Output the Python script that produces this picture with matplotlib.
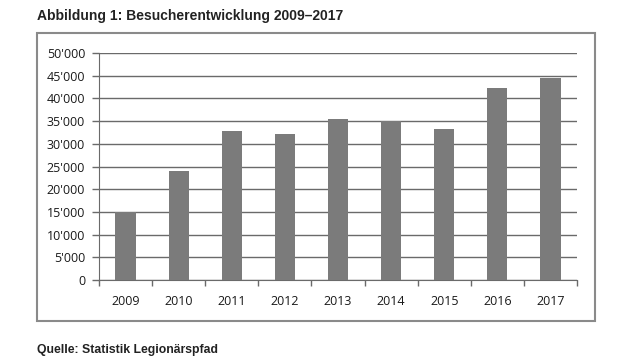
import matplotlib
matplotlib.use("Agg")
import matplotlib.pyplot as plt
from matplotlib.patches import Rectangle
from matplotlib.ticker import FuncFormatter, FixedLocator
import numpy as np

years = ["2009", "2010", "2011", "2012", "2013", "2014", "2015", "2016", "2017"]
visitors = [15000, 23900, 32900, 32200, 35400, 35000, 33200, 42300, 44400]
yticks = list(range(0, 50001, 5000))

fig = plt.figure(figsize=(6.4, 3.6), dpi=100)
fig.patch.set_facecolor("white")

# outer frame
fig.patches.append(Rectangle((37/640, 1-321/360), (595-37)/640, (321-33)/360,
                             transform=fig.transFigure, fill=False,
                             edgecolor="#8a8a8a", linewidth=1.5))

ax = fig.add_axes([99/640, 1-280/360, (577-99)/640, (280-53)/360])
x = np.arange(len(years))
ax.bar(x, visitors, width=0.38, color="#7b7b7b", zorder=3)

ax.set_ylim(0, 50000)
ax.set_xlim(-0.5, len(years)-0.5)
ax.set_yticks(yticks)
ax.yaxis.set_major_formatter(FuncFormatter(lambda v, p: "0" if v == 0 else f"{int(v):,}".replace(",", "'")))
ax.yaxis.grid(True, color="#6a6a6a", linewidth=1.0, zorder=0)
ax.set_axisbelow(True)

ax.set_xticks(x)
ax.set_xticklabels(years)
ax.xaxis.set_minor_locator(FixedLocator(np.arange(-0.5, len(years), 1.0)))
ax.tick_params(axis="x", which="major", length=0, pad=11, labelsize=9, labelcolor="#1a1a1a")
ax.tick_params(axis="x", which="minor", length=4, width=1, color="#6a6a6a", direction="out")
ax.tick_params(axis="y", length=5, width=1, color="#6a6a6a", pad=5, labelsize=9, labelcolor="#1a1a1a")
for lab in ax.get_xticklabels() + ax.get_yticklabels():
    lab.set_family("Open Sans")

for s in ["top", "right"]:
    ax.spines[s].set_visible(False)
ax.spines["left"].set_color("#6a6a6a")
ax.spines["bottom"].set_color("#6a6a6a")

fig.text(37/640, 1-16/360, "Abbildung 1: Besucherentwicklung 2009\u20132017",
         fontsize=10, fontweight="bold", family="Liberation Sans",
         color="#222222", va="center", ha="left")
fig.text(37/640, 1-350/360, "Quelle: Statistik Legion\u00e4rspfad",
         fontsize=8.8, fontweight="bold", family="Liberation Sans",
         color="#222222", va="center", ha="left")

fig.savefig("out.png", dpi=100, facecolor="white")
